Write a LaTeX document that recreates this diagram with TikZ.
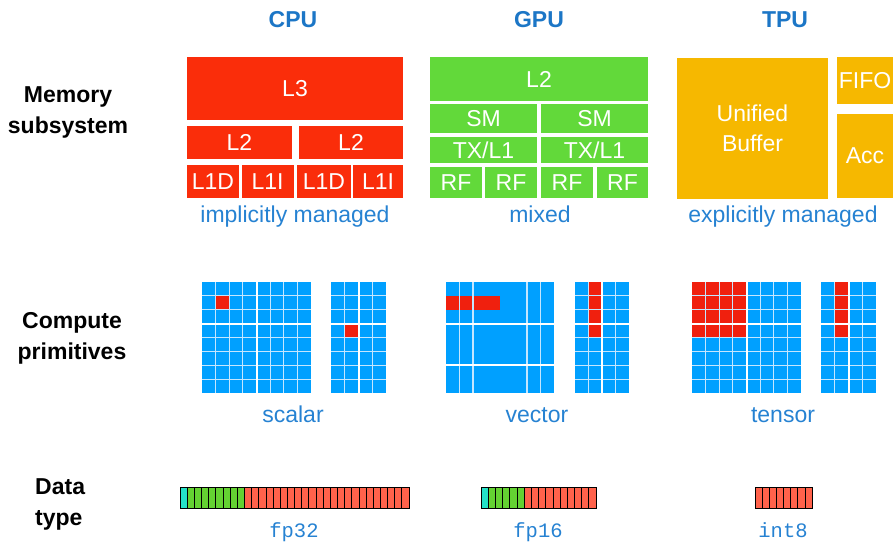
\documentclass[tikz,border=0pt]{standalone}
\usepackage{fontspec}
\setmainfont{Liberation Sans}
\setmonofont{Liberation Mono}

\definecolor{hdrblue}{RGB}{28,118,198}
\definecolor{capblue}{RGB}{38,130,210}
\definecolor{cpured}{RGB}{250,45,10}
\definecolor{gpugreen}{RGB}{98,217,58}
\definecolor{tpuyellow}{RGB}{246,184,0}
\definecolor{gridblue}{RGB}{0,160,255}
\definecolor{gridred}{RGB}{240,32,14}
\definecolor{gridline}{RGB}{196,230,255}
\definecolor{bitcyan}{RGB}{36,226,200}
\definecolor{bitgreen}{RGB}{100,210,50}
\definecolor{bitred}{RGB}{255,98,75}

\begin{document}
\begin{tikzpicture}[x=1pt,y=-1pt,
  hdr/.style={font=\fontsize{23}{27}\selectfont\bfseries, text=hdrblue, inner sep=0pt},
  rowlabel/.style={font=\fontsize{23}{30.5}\selectfont\bfseries, text=black, inner sep=0pt},
  caption/.style={font=\fontsize{23}{27}\selectfont, text=capblue, inner sep=0pt},
  monocap/.style={font=\fontsize{20.5}{24}\selectfont\ttfamily, text=capblue, inner sep=0pt},
  blk/.style={rectangle, inner sep=0pt, text=white, font=\fontsize{23}{30}\selectfont},
  cpublk/.style={blk, fill=cpured},
  gpublk/.style={blk, fill=gpugreen},
  tpublk/.style={blk, fill=tpuyellow},
  gthin/.style={draw=gridline, line width=1.1pt},
  gthick/.style={draw=white, line width=2pt},
  bit/.style={draw=black, line width=0.7pt}
]
\useasboundingbox (0,0) rectangle (894,544);

% column headers
\node[hdr, anchor=base] (cpuhdr) at (293,27) {CPU};
\node[hdr, anchor=base] (gpuhdr) at (539,27) {GPU};
\node[hdr, anchor=base] (tpuhdr) at (785,27) {TPU};

% row labels (base anchor sits on the last line)
\node[rowlabel, anchor=base, align=center] (memlbl) at (68,133) {Memory\\subsystem};
\node[rowlabel, anchor=base, align=center] (cmplbl) at (72,359) {Compute\\primitives};
\node[rowlabel, anchor=base west, align=left] (dtlbl) at (35,525) {Data\\type};

% ---------------- memory hierarchies ----------------
% CPU caches
\node[cpublk, minimum width=216pt, minimum height=63pt] (cl3) at (295,88.5) {L3};
\node[cpublk, minimum width=105pt, minimum height=33pt] (cl2a) at (239.5,142.5) {L2};
\node[cpublk, minimum width=104pt, minimum height=33pt] (cl2b) at (351,142.5) {L2};
\node[cpublk, minimum width=52pt, minimum height=33pt] (cl1da) at (213,181.5) {L1D};
\node[cpublk, minimum width=52pt, minimum height=33pt] (cl1ia) at (267.5,181.5) {L1I};
\node[cpublk, minimum width=54pt, minimum height=33pt] (cl1db) at (324,181.5) {L1D};
\node[cpublk, minimum width=50pt, minimum height=33pt] (cl1ib) at (378,181.5) {L1I};
\node[caption, anchor=base] (cpucap) at (295,222) {implicitly managed};

% GPU memories
\node[gpublk, minimum width=218pt, minimum height=44pt] (gl2) at (539,79) {L2};
\node[gpublk, minimum width=107pt, minimum height=29pt] (gsma) at (483.5,118.5) {SM};
\node[gpublk, minimum width=107pt, minimum height=29pt] (gsmb) at (594.5,118.5) {SM};
\node[gpublk, minimum width=107pt, minimum height=26pt] (gtxa) at (483.5,150) {TX/L1};
\node[gpublk, minimum width=107pt, minimum height=26pt] (gtxb) at (594.5,150) {TX/L1};
\node[gpublk, minimum width=52pt, minimum height=31pt] (grf1) at (456,182.5) {RF};
\node[gpublk, minimum width=52pt, minimum height=31pt] (grf2) at (511,182.5) {RF};
\node[gpublk, minimum width=52pt, minimum height=31pt] (grf3) at (567,182.5) {RF};
\node[gpublk, minimum width=51pt, minimum height=31pt] (grf4) at (622.5,182.5) {RF};
\node[caption, anchor=base] (gpucap) at (540,222) {mixed};

% TPU memories
\node[tpublk, minimum width=151pt, minimum height=141pt, align=center] (tub) at (752.5,128.5) {Unified\\Buffer};
\node[tpublk, minimum width=56pt, minimum height=47pt] (tfifo) at (865,80.5) {FIFO};
\node[tpublk, minimum width=56pt, minimum height=84pt] (tacc) at (865,156) {Acc};
\node[caption, anchor=base] (tpucap) at (783,222) {explicitly managed};

% ---------------- compute primitives ----------------
% CPU: scalar, 8x8 array
\begin{scope}[shift={(202,282)}, x=13.625pt, y=-13.875pt]
  \fill[gridblue] (0,0) rectangle (8,8);
  \fill[gridred] (1,1) rectangle (2,2);
  \foreach \i in {1,...,7} {\draw[gthin] (\i,0) -- (\i,8); \draw[gthin] (0,\i) -- (8,\i);}
  \draw[gthick] (4,0) -- (4,8); \draw[gthick] (0,3) -- (8,3);
\end{scope}
% CPU: scalar, 4x8 array
\begin{scope}[shift={(331,282)}, x=13.75pt, y=-13.875pt]
  \fill[gridblue] (0,0) rectangle (4,8);
  \fill[gridred] (1,3) rectangle (2,4);
  \foreach \i in {1,...,3} \draw[gthin] (\i,0) -- (\i,8);
  \foreach \i in {1,...,7} \draw[gthin] (0,\i) -- (4,\i);
  \draw[gthick] (2,0) -- (2,8); \draw[gthick] (0,3) -- (4,3);
\end{scope}
\node[caption, anchor=base] (cpuprim) at (293,422) {scalar};

% GPU: vector, 8x8 array
\begin{scope}[shift={(446,282)}, x=13.5pt, y=-13.875pt]
  \fill[gridblue] (0,0) rectangle (8,8);
  \fill[gridred] (0,1) rectangle (4,2);
  \foreach \i in {1,2,6,7} \draw[gthin] (\i,0) -- (\i,8);
  \draw[gthick] (0,3) -- (8,3); \draw[gthick] (0,6) -- (8,6);
\end{scope}
% GPU: vector, 4x8 array
\begin{scope}[shift={(575,282)}, x=13.5pt, y=-13.875pt]
  \fill[gridblue] (0,0) rectangle (4,8);
  \fill[gridred] (1,0) rectangle (2,4);
  \foreach \i in {1,...,3} \draw[gthin] (\i,0) -- (\i,8);
  \foreach \i in {1,...,7} \draw[gthin] (0,\i) -- (4,\i);
  \draw[gthick] (2,0) -- (2,8); \draw[gthick] (0,3) -- (4,3);
\end{scope}
\node[caption, anchor=base] (gpuprim) at (537,422) {vector};

% TPU: tensor, 8x8 array
\begin{scope}[shift={(692,282)}, x=13.625pt, y=-13.875pt]
  \fill[gridblue] (0,0) rectangle (8,8);
  \fill[gridred] (0,0) rectangle (4,4);
  \foreach \i in {1,...,7} {\draw[gthin] (\i,0) -- (\i,8); \draw[gthin] (0,\i) -- (8,\i);}
  \draw[gthick] (4,0) -- (4,8); \draw[gthick] (0,3) -- (8,3);
\end{scope}
% TPU: tensor, 4x8 array
\begin{scope}[shift={(821,282)}, x=13.75pt, y=-13.875pt]
  \fill[gridblue] (0,0) rectangle (4,8);
  \fill[gridred] (1,0) rectangle (2,4);
  \foreach \i in {1,...,3} \draw[gthin] (\i,0) -- (\i,8);
  \foreach \i in {1,...,7} \draw[gthin] (0,\i) -- (4,\i);
  \draw[gthick] (2,0) -- (2,8); \draw[gthick] (0,3) -- (4,3);
\end{scope}
\node[caption, anchor=base] (tpuprim) at (783,422) {tensor};

% ---------------- data types ----------------
% fp32: sign, 8 exponent bits, 23 mantissa bits
\begin{scope}[shift={(180,487)}, x=7.156pt, y=-21pt]
  \draw[bit, fill=bitcyan] (0,0) rectangle (1,1);
  \foreach \i in {1,...,8} \draw[bit, fill=bitgreen] (\i,0) rectangle ++(1,1);
  \foreach \i in {9,...,31} \draw[bit, fill=bitred] (\i,0) rectangle ++(1,1);
\end{scope}
\node[monocap, anchor=base] (fp32) at (294,537) {fp32};

% fp16: sign, 5 exponent bits, 10 mantissa bits
\begin{scope}[shift={(481,487)}, x=7.1875pt, y=-21pt]
  \draw[bit, fill=bitcyan] (0,0) rectangle (1,1);
  \foreach \i in {1,...,5} \draw[bit, fill=bitgreen] (\i,0) rectangle ++(1,1);
  \foreach \i in {6,...,15} \draw[bit, fill=bitred] (\i,0) rectangle ++(1,1);
\end{scope}
\node[monocap, anchor=base] (fp16) at (538,537) {fp16};

% int8
\begin{scope}[shift={(755,487)}, x=7.125pt, y=-21pt]
  \foreach \i in {0,...,7} \draw[bit, fill=bitred] (\i,0) rectangle ++(1,1);
\end{scope}
\node[monocap, anchor=base] (int8) at (783,537) {int8};

\end{tikzpicture}
\end{document}
